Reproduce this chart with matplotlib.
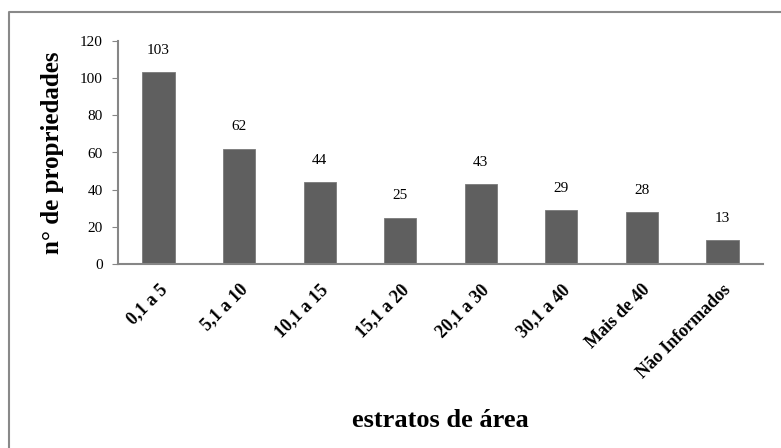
import matplotlib
matplotlib.use("Agg")
import matplotlib.pyplot as plt
from matplotlib.lines import Line2D

# data
estratos = ["0,1 a 5", "5,1 a 10", "10,1 a 15", "15,1 a 20",
            "20,1 a 30", "30,1 a 40", "Mais de 40", "Não Informados"]
propriedades = [103, 62, 44, 25, 43, 29, 28, 13]
yticks = [0, 20, 40, 60, 80, 100, 120]

plt.rcParams['font.family'] = ['Liberation Serif', 'DejaVu Serif']

W, H = 781, 448
fig = plt.figure(figsize=(W / 100, H / 100), dpi=100)

# grey frame (only left and top visible in the crop)
fx, fy = 9 / W, 1 - 12.5 / H
fig.lines.append(Line2D([fx, fx, 1.0], [0.0, fy, fy], transform=fig.transFigure,
                        color='#898989', linewidth=1.5))

ax = fig.add_axes([118.3 / W, 1 - 264.3 / H, (762.7 - 118.3) / W, (264.3 - 40.7) / H])

x = range(len(estratos))
bars = ax.bar(x, propriedades, width=0.4, color='#5f5f5f', edgecolor='#7a7a7a', linewidth=0.6)
for xi, v in zip(x, propriedades):
    ax.annotate(str(v), xy=(xi, v), xytext=(0, 11), textcoords='offset points',
                ha='center', va='bottom', fontsize=11)

ax.set_xlim(-0.5, len(estratos) - 0.5)
ax.set_ylim(0, 120)
ax.set_yticks(yticks)
ax.set_xticks(list(x))
ax.set_xticklabels(estratos, rotation=45, ha='right', rotation_mode='anchor',
                   fontweight='bold', fontsize=13)
ax.tick_params(axis='x', length=0, pad=12)
ax.tick_params(axis='y', length=4, color='#868686', labelsize=11, pad=7)

for s in ['top', 'right']:
    ax.spines[s].set_visible(False)
for s in ['left', 'bottom']:
    ax.spines[s].set_color('#868686')
    ax.spines[s].set_linewidth(1.5)

ax.set_ylabel("n° de propriedades", fontsize=18, fontweight='bold')
ax.yaxis.set_label_coords(-0.084, 0.5)
fig.text((118.3 + 762.7) / 2 / W, 1 - 420 / H, "estratos de área",
         ha='center', va='center', fontsize=19, fontweight='bold')

fig.savefig("out.png", dpi=100)
